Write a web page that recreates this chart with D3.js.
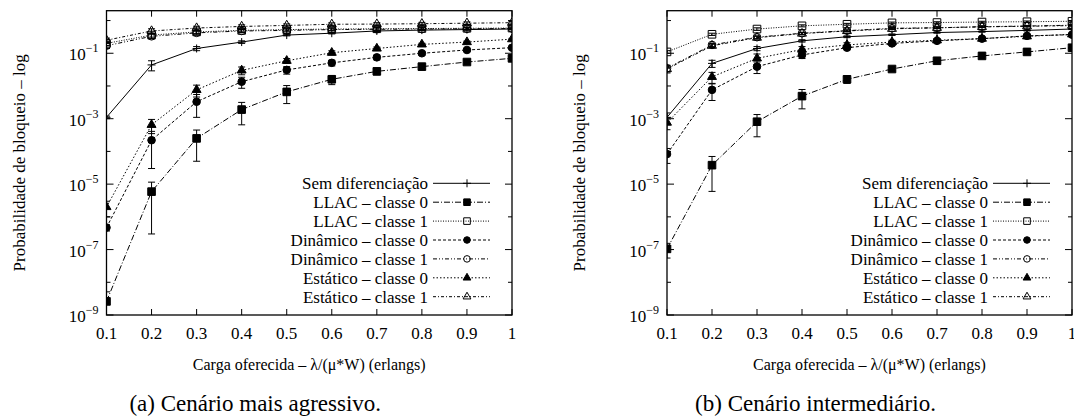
<!DOCTYPE html>
<html>
<head>
<meta charset="utf-8">
<script src="https://cdn.jsdelivr.net/npm/d3@7"></script>
<style>
  body { margin: 0; background: #fff; }
</style>
</head>
<body>
<svg id="fig" width="1074" height="418"></svg>
<script>
'use strict';

// eixo x: carga oferecida
const cargas = [0.1, 0.2, 0.3, 0.4, 0.5, 0.6, 0.7, 0.8, 0.9, 1.0];
const xTickLabels = ['0.1', '0.2', '0.3', '0.4', '0.5', '0.6', '0.7', '0.8', '0.9', '1'];
const yDecades = [-9, -8, -7, -6, -5, -4, -3, -2, -1, 0];
const yLabeled = [-9, -7, -5, -3, -1];

const seriesNames = ['Sem diferenciação', 'LLAC – classe 0', 'LLAC – classe 1',
    'Dinâmico – classe 0', 'Dinâmico – classe 1', 'Estático – classe 0', 'Estático – classe 1'];

// (a) cenário mais agressivo
const a_sem      = [1.1e-3, 0.044, 0.14, 0.22, 0.36, 0.41, 0.48, 0.51, 0.53, 0.55];
const a_semErr   = [1e-4, 0.015, 0.02, 0.02, 0.02, 0.02, 0.02, 0.02, 0.02, 0.02];
const a_llac0    = [2.6e-9, 5.9e-6, 2.5e-4, 1.9e-3, 6.6e-3, 0.016, 0.028, 0.039, 0.054, 0.07];
const a_llac0Err = [2.5e-9, 5.6e-6, 2e-4, 1.25e-3, 3.7e-3, 5e-3, 6e-3, 7e-3, 8e-3, 8e-3];
const a_llac1    = [0.2, 0.36, 0.45, 0.5, 0.53, 0.55, 0.56, 0.57, 0.58, 0.59];
const a_llac1Err = [0.03, 0.05, 0.05, 0.05, 0.05, 0.05, 0.05, 0.05, 0.05, 0.05];
const a_din0     = [4.7e-7, 2.2e-4, 3.3e-3, 0.0135, 0.031, 0.051, 0.075, 0.1, 0.126, 0.148];
const a_din0Err  = [1e-7, 1.9e-4, 2.2e-3, 5e-3, 8e-3, 1e-2, 1.2e-2, 1.2e-2, 1.2e-2, 1.2e-2];
const a_din1     = [0.17, 0.33, 0.42, 0.48, 0.5, 0.53, 0.54, 0.55, 0.56, 0.57];
const a_din1Err  = [0.03, 0.05, 0.05, 0.05, 0.05, 0.05, 0.05, 0.05, 0.05, 0.05];
const a_est0     = [2e-6, 6.5e-4, 7.6e-3, 0.03, 0.059, 0.104, 0.14, 0.187, 0.22, 0.27];
const a_est0Err  = [1e-6, 3e-4, 3e-3, 8e-3, 1e-2, 1.5e-2, 1.5e-2, 1.5e-2, 1.5e-2, 1.5e-2];
const a_est1     = [0.25, 0.48, 0.59, 0.66, 0.71, 0.77, 0.78, 0.8, 0.83, 0.86];
const a_est1Err  = [0.04, 0.08, 0.08, 0.08, 0.08, 0.08, 0.08, 0.08, 0.08, 0.08];

// (b) cenário intermediário
const b_sem      = [1.1e-3, 0.049, 0.14, 0.24, 0.32, 0.37, 0.43, 0.46, 0.5, 0.55];
const b_semErr   = [4e-4, 0.012, 0.02, 0.02, 0.02, 0.02, 0.02, 0.02, 0.02, 0.02];
const b_llac0    = [1.05e-7, 3.8e-5, 8.1e-4, 4.9e-3, 0.016, 0.033, 0.059, 0.083, 0.11, 0.148];
const b_llac0Err = [5e-8, 3.2e-5, 5.3e-4, 2.9e-3, 4e-3, 4e-3, 4e-3, 4e-3, 4e-3, 4e-3];
const b_llac1    = [0.11, 0.38, 0.55, 0.69, 0.77, 0.85, 0.87, 0.9, 0.92, 0.95];
const b_llac1Err = [0.01, 0.03, 0.05, 0.05, 0.05, 0.05, 0.05, 0.05, 0.05, 0.05];
const b_din0     = [8.3e-5, 7.6e-3, 0.039, 0.089, 0.148, 0.2, 0.24, 0.28, 0.34, 0.37];
const b_din0Err  = [4e-5, 4e-3, 0.015, 0.02, 0.02, 0.02, 0.02, 0.02, 0.02, 0.02];
const b_din1     = [0.035, 0.18, 0.31, 0.41, 0.49, 0.58, 0.6, 0.65, 0.68, 0.72];
const b_din1Err  = [0.008, 0.02, 0.03, 0.03, 0.03, 0.03, 0.03, 0.03, 0.03, 0.03];
const b_est0     = [7.6e-4, 0.019, 0.07, 0.13, 0.18, 0.22, 0.25, 0.28, 0.33, 0.38];
const b_est0Err  = [3e-4, 7e-3, 0.025, 0.03, 0.03, 0.03, 0.03, 0.03, 0.03, 0.03];
const b_est1     = [0.033, 0.17, 0.3, 0.4, 0.48, 0.56, 0.6, 0.64, 0.67, 0.7];
const b_est1Err  = [0.008, 0.02, 0.03, 0.03, 0.03, 0.03, 0.03, 0.03, 0.03, 0.03];

const panelA = [
    [a_sem, a_semErr], [a_llac0, a_llac0Err], [a_llac1, a_llac1Err],
    [a_din0, a_din0Err], [a_din1, a_din1Err], [a_est0, a_est0Err], [a_est1, a_est1Err]
];
const panelB = [
    [b_sem, b_semErr], [b_llac0, b_llac0Err], [b_llac1, b_llac1Err],
    [b_din0, b_din0Err], [b_din1, b_din1Err], [b_est0, b_est0Err], [b_est1, b_est1Err]
];

// estilo de cada curva (traço + símbolo)
const styles = [
    {dash: null, mark: 'plus'},
    {dash: '6,2,1,2', mark: 'square', fill: true},
    {dash: '1,1.5', mark: 'square', fill: false},
    {dash: '3,2', mark: 'circle', fill: true},
    {dash: '4,2,1,2,1,2', mark: 'circle', fill: false},
    {dash: '1.5,2', mark: 'triangle', fill: true},
    {dash: '3,2,1,2', mark: 'triangle', fill: false}
];

const svg = d3.select('#fig');
const fontSize = 17;
const serif = '"Liberation Serif"';

function markerPath(mark, s) {
    if (mark === 'plus') return `M${-s},0H${s}M0,${-s}V${s}`;
    if (mark === 'square') return d3.symbol().type(d3.symbolSquare).size(s * s * 4)();
    if (mark === 'circle') return d3.symbol().type(d3.symbolCircle).size(Math.PI * s * s)();
    return d3.symbol().type(d3.symbolTriangle).size(s * s * 2.4)();
}

function drawMarker(g, st, x, y, s) {
    g.append('path')
        .attr('d', markerPath(st.mark, s))
        .attr('transform', `translate(${x},${y})`)
        .attr('fill', st.fill ? '#000' : 'none')
        .attr('stroke', '#000')
        .attr('stroke-width', 1);
}

function addText(g, x, y, size, anchor, str) {
    return g.append('text').attr('x', x).attr('y', y)
        .attr('text-anchor', anchor)
        .style('font-family', serif)
        .style('font-size', size + 'px')
        .style('fill', '#000')
        .text(str);
}

function drawPanel(id, x0, x1, series, caption) {
    const top = 10.7, bottom = 315;
    const x = d3.scaleLinear().domain([0.1, 1]).range([x0, x1]);
    const y = d3.scaleLog().domain([1e-9, 2]).range([bottom, top]);
    const g = svg.append('g');

    const clipId = 'clip-' + id;
    svg.append('clipPath').attr('id', clipId)
        .append('rect').attr('x', x0).attr('y', top).attr('width', x1 - x0).attr('height', bottom - top);

    // ticks (para dentro, espelhados)
    cargas.forEach((c, i) => {
        g.append('line').attr('x1', x(c)).attr('x2', x(c)).attr('y1', bottom).attr('y2', bottom - 6)
            .attr('stroke', '#000');
        g.append('line').attr('x1', x(c)).attr('x2', x(c)).attr('y1', top).attr('y2', top + 6)
            .attr('stroke', '#000');
        addText(g, x(c), bottom + 24, fontSize, 'middle', xTickLabels[i]);
    });
    yDecades.forEach((e) => {
        const yy = y(Math.pow(10, e));
        const len = yLabeled.includes(e) ? 7 : 4;
        g.append('line').attr('x1', x0).attr('x2', x0 + len).attr('y1', yy).attr('y2', yy).attr('stroke', '#000');
        g.append('line').attr('x1', x1).attr('x2', x1 - len).attr('y1', yy).attr('y2', yy).attr('stroke', '#000');
        if (yLabeled.includes(e)) {
            const t = addText(g, x0 - 8, yy + 7, fontSize, 'end', null);
            t.append('tspan').text('10');
            t.append('tspan').attr('dy', -8).style('font-size', '12px').text('−' + Math.abs(e));
        }
    });

    // curvas
    const plot = g.append('g').attr('clip-path', `url(#${clipId})`);
    const line = d3.line().x((d) => x(d.c)).y((d) => y(d.v));
    series.forEach(([vals, errs], si) => {
        const st = styles[si];
        const pts = vals.map((v, i) => ({c: cargas[i], v: v, e: errs[i]}));
        plot.append('path').datum(pts)
            .attr('d', line)
            .attr('fill', 'none').attr('stroke', '#000').attr('stroke-width', 1)
            .attr('stroke-dasharray', st.dash);
        pts.forEach((p) => {
            const px = x(p.c);
            const hi = y(p.v + p.e);
            const lo = p.v - p.e > 1e-9 ? y(p.v - p.e) : bottom + 2;
            plot.append('line').attr('x1', px).attr('x2', px).attr('y1', hi).attr('y2', lo)
                .attr('stroke', '#000').attr('stroke-width', 1);
            [hi, lo].forEach((yy) => {
                plot.append('line').attr('x1', px - 3.5).attr('x2', px + 3.5).attr('y1', yy).attr('y2', yy)
                    .attr('stroke', '#000').attr('stroke-width', 1);
            });
            drawMarker(plot, st, px, y(p.v), st.mark === 'plus' ? 4 : 3.8);
        });
    });

    // legenda
    const legRight = x1 - 84;
    seriesNames.forEach((name, i) => {
        const ly = 183.3 + i * 18.9;
        addText(g, legRight, ly + 6, fontSize, 'end', name);
        g.append('line').attr('x1', x1 - 79).attr('x2', x1 - 22).attr('y1', ly).attr('y2', ly)
            .attr('stroke', '#000').attr('stroke-width', 1).attr('stroke-dasharray', styles[i].dash);
        drawMarker(g, styles[i], x1 - 45, ly, styles[i].mark === 'plus' ? 4 : 3.3);
    });

    // moldura
    g.append('rect').attr('x', x0).attr('y', top).attr('width', x1 - x0).attr('height', bottom - top)
        .attr('fill', 'none').attr('stroke', '#000').attr('stroke-width', 1.3);

    // rótulos dos eixos
    g.append('text')
        .attr('transform', `translate(${x0 - 82},${(top + bottom) / 2}) rotate(-90)`)
        .attr('text-anchor', 'middle')
        .style('font-family', serif).style('font-size', fontSize + 'px').style('fill', '#000')
        .text('Probabilidade de bloqueio – log');
    addText(g, (x0 + x1) / 2, 370, 16, 'middle', 'Carga oferecida – λ/(μ*W) (erlangs)');
    addText(g, (x0 + x1) / 2 - 54, 411, 23, 'middle', caption);
}

drawPanel('a', 106.5, 512, panelA, '(a) Cenário mais agressivo.');
drawPanel('b', 667, 1072, panelB, '(b) Cenário intermediário.');
</script>
</body>
</html>
